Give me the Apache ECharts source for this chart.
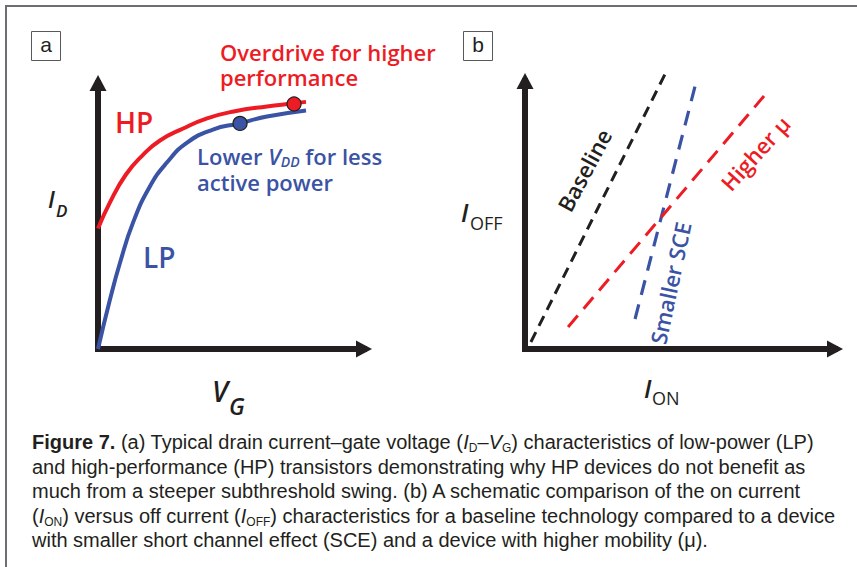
<!DOCTYPE html>
<html>
<head>
<meta charset="utf-8">
<script src="https://cdn.jsdelivr.net/npm/echarts@6/dist/echarts.min.js"></script>
<style>
  html, body { margin: 0; padding: 0; background: #ffffff; }
  #chart { width: 857px; height: 567px; }
</style>
</head>
<body>
<div id="chart"></div>
<script>
// ---- Panel (a): drain current vs gate voltage (schematic units 0-100) ----
const hpVg = [0, 4.5, 10.5, 17, 23.3, 32, 41, 51, 63.5, 73.3, 78.2];
const hpId = [45.3, 55.1, 65.6, 73.1, 78.4, 82.9, 86.7, 89.3, 91.2, 92.3, 92.9];
const lpVg = [0, 4.5, 8.3, 13.2, 19.5, 25.9, 33.5, 43.2, 53, 63.5, 78.2];
const lpId = [0, 18.6, 32.5, 47.6, 61.1, 70.1, 77.6, 82.5, 84.8, 87.4, 89.7];
// operating points
const hpPointVg = [73.7];
const hpPointId = [92.1];
const lpPointVg = [53.4];
const lpPointId = [84.8];

// ---- Panel (b): on current vs off current trends (start, end) ----
const baselineOn = [1.9, 45.2];
const baselineOff = [2.6, 102.6];
const smallerSceOn = [35.5, 55.2];
const smallerSceOff = [11.2, 99.6];
const higherMuOn = [13.9, 77.1];
const higherMuOff = [8.2, 94.4];

// ---- Caption lines ----
const captionLines = [
  '{b|Figure 7.}{n| (a) Typical drain current–gate voltage (}{i|I}{s|D}{n|–}{i|V}{s|G}{n|) characteristics of low-power (LP)}',
  '{n|and high-performance (HP) transistors demonstrating why HP devices do not benefit as}',
  '{n|much from a steeper subthreshold swing. (b) A schematic comparison of the on current}',
  '{n|(}{i|I}{s|ON}{n|) versus off current (}{i|I}{s|OFF}{n|) characteristics for a baseline technology compared to a device}',
  '{n|with smaller short channel effect (SCE) and a device with higher mobility (μ).}'
];

const RED = '#ed1c24';
const BLUE = '#3a53a4';
const INK = '#231f20';
const ANNOT = '"Open Sans", "Noto Sans", sans-serif';
const CAPTION_FONT = '"Liberation Sans", Arial, sans-serif';

function pairs(xs, ys) { return xs.map((x, i) => [x, ys[i]]); }

function axis(gridIndex) {
  return {
    type: 'value', gridIndex: gridIndex, min: 0, max: 100,
    axisLine: {
      show: true, onZero: false,
      symbol: ['none', 'triangle'], symbolSize: [17, 16],
      lineStyle: { color: INK, width: 6, cap: 'square' }
    },
    axisTick: { show: false }, axisLabel: { show: false }, splitLine: { show: false }
  };
}

function label(text, x, y, size, color, extra) {
  return Object.assign({
    type: 'text', x: x, y: y, silent: true,
    style: Object.assign({
      text: text, fill: color, fontFamily: ANNOT, fontSize: size, fontWeight: 600,
      align: 'left', verticalAlign: 'middle'
    }, (extra && extra.style) || {})
  }, extra && extra.rotation != null ? { rotation: extra.rotation } : {});
}

const deg = Math.PI / 180;

const graphics = [
  { type: 'rect', silent: true, shape: { x: 6, y: 6, width: 900, height: 600 },
    style: { fill: 'none', stroke: '#6d6e71', lineWidth: 2 } },
  { type: 'rect', silent: true, shape: { x: 31.5, y: 31.5, width: 29, height: 29 },
    style: { fill: 'none', stroke: '#58595b', lineWidth: 1 } },
  { type: 'rect', silent: true, shape: { x: 463.5, y: 31.5, width: 29, height: 29 },
    style: { fill: 'none', stroke: '#58595b', lineWidth: 1 } },
  label('a', 46, 44, 21, INK, { style: { fontFamily: CAPTION_FONT, fontWeight: 'normal', align: 'center' } }),
  label('b', 478, 44, 21, INK, { style: { fontFamily: CAPTION_FONT, fontWeight: 'normal', align: 'center' } }),

  // panel (a) annotations
  label('Overdrive for higher\nperformance', 220, 39, 22, RED, { style: { verticalAlign: 'top', lineHeight: 25 } }),
  label('HP', 115, 122, 28, RED),
  label('LP', 143, 257, 28, BLUE),
  { type: 'text', x: 197, y: 142.5, silent: true,
    style: {
      text: '{n|Lower }{v|V}{s|DD}{n| for less}\n{n|active power}',
      align: 'left', verticalAlign: 'top',
      rich: {
        n: { fontFamily: ANNOT, fontSize: 22, fontWeight: 600, fill: BLUE, color: BLUE, lineHeight: 26 },
        v: { fontFamily: ANNOT, fontSize: 22, fontWeight: 600, fontStyle: 'italic', fill: BLUE, color: BLUE, lineHeight: 26 },
        s: { fontFamily: ANNOT, fontSize: 14, fontWeight: 600, fontStyle: 'italic', fill: BLUE, color: BLUE, lineHeight: 26, padding: [12, 0, 0, 0] }
      }
    } },
  label('I', 48, 199, 23, INK, { style: { fontStyle: 'italic' } }),
  label('D', 56, 210.4, 17, INK, { style: { fontStyle: 'italic' } }),
  label('V', 212, 391, 28, INK, { style: { fontStyle: 'italic' } }),
  label('G', 229, 406, 23, INK, { style: { fontStyle: 'italic' } }),

  // panel (b) annotations
  label('I', 461, 212.3, 25, INK, { style: { fontStyle: 'italic' } }),
  label('OFF', 470, 223, 18, INK, { style: { fontWeight: 'normal' } }),
  label('I', 644, 388.3, 25, INK, { style: { fontStyle: 'italic' } }),
  label('ON', 652, 398, 18, INK, { style: { fontWeight: 'normal' } }),
  label('Baseline', 584, 170, 22, INK, { rotation: 62 * deg, style: { align: 'center' } }),
  label('Smaller SCE', 670, 283, 22, BLUE, { rotation: 78 * deg, style: { align: 'center' } }),
  label('Higher μ', 755, 153, 22, RED, { rotation: 48 * deg, style: { align: 'center' } })
];

// caption, one element per line
const captionRich = {
  n: { fontFamily: CAPTION_FONT, fontSize: 20, fill: INK, color: INK, lineHeight: 24 },
  b: { fontFamily: CAPTION_FONT, fontSize: 20, fontWeight: 'bold', fill: INK, color: INK, lineHeight: 24 },
  i: { fontFamily: CAPTION_FONT, fontSize: 20, fontStyle: 'italic', fill: INK, color: INK, lineHeight: 24 },
  s: { fontFamily: CAPTION_FONT, fontSize: 12, fill: INK, color: INK, lineHeight: 24, padding: [12, 0, 0, 0] }
};
const captionBaselines = [449, 473.5, 498, 522.5, 547];
captionLines.forEach((t, k) => {
  graphics.push({
    type: 'text', x: 32, y: captionBaselines[k] - 6.9, silent: true,
    style: { text: t, align: 'left', verticalAlign: 'middle', rich: captionRich }
  });
});

const chart = echarts.init(document.getElementById('chart'), null, { renderer: 'svg' });
chart.setOption({
  animation: false,
  backgroundColor: '#ffffff',
  grid: [
    { left: 98, top: 83, width: 266, height: 266 },
    { left: 525, top: 81, width: 310, height: 268 }
  ],
  xAxis: [axis(0), axis(1)],
  yAxis: [axis(0), axis(1)],
  series: [
    { type: 'line', name: 'HP', xAxisIndex: 0, yAxisIndex: 0, data: pairs(hpVg, hpId),
      smooth: 0.5, symbol: 'none', clip: false, z: 3,
      lineStyle: { color: RED, width: 4 } },
    { type: 'line', name: 'LP', xAxisIndex: 0, yAxisIndex: 0, data: pairs(lpVg, lpId),
      smooth: 0.5, symbol: 'none', clip: false, z: 3,
      lineStyle: { color: BLUE, width: 4 } },
    { type: 'scatter', name: 'HP operating point', xAxisIndex: 0, yAxisIndex: 0,
      data: pairs(hpPointVg, hpPointId), symbolSize: 14, clip: false, z: 5,
      itemStyle: { color: RED, borderColor: INK, borderWidth: 1.2, opacity: 1 } },
    { type: 'scatter', name: 'LP operating point', xAxisIndex: 0, yAxisIndex: 0,
      data: pairs(lpPointVg, lpPointId), symbolSize: 14, clip: false, z: 5,
      itemStyle: { color: BLUE, borderColor: INK, borderWidth: 1.2, opacity: 1 } },
    { type: 'line', name: 'Baseline', xAxisIndex: 1, yAxisIndex: 1, data: pairs(baselineOn, baselineOff),
      symbol: 'none', clip: false, z: 3, lineStyle: { color: INK, width: 3, type: [11, 7] } },
    { type: 'line', name: 'Smaller SCE', xAxisIndex: 1, yAxisIndex: 1, data: pairs(smallerSceOn, smallerSceOff),
      symbol: 'none', clip: false, z: 3, lineStyle: { color: BLUE, width: 3.2, type: [15, 10] } },
    { type: 'line', name: 'Higher μ', xAxisIndex: 1, yAxisIndex: 1, data: pairs(higherMuOn, higherMuOff),
      symbol: 'none', clip: false, z: 3, lineStyle: { color: RED, width: 3, type: [15, 9] } }
  ],
  graphic: { elements: graphics }
});
</script>
</body>
</html>
